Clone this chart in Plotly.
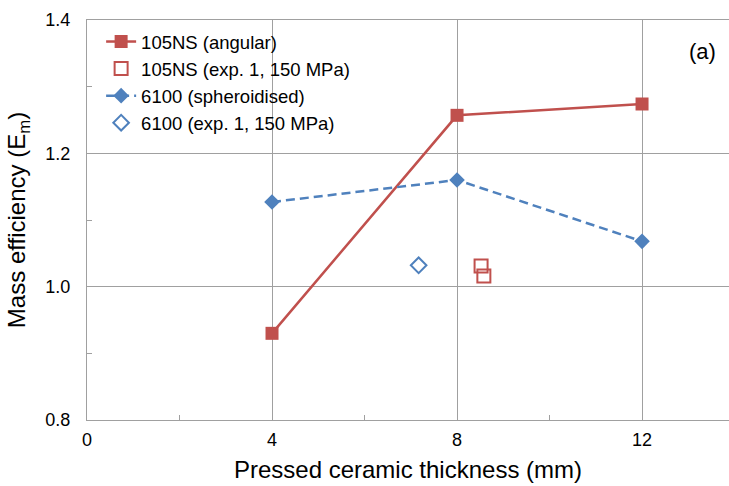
import plotly.graph_objects as go

thickness = [4, 8, 12]
ns105_angular = [0.930, 1.257, 1.274]
s6100_spheroidised = [1.127, 1.160, 1.068]
ns105_exp_x = [8.52, 8.58]
ns105_exp_y = [1.031, 1.016]
s6100_exp_x = [7.17]
s6100_exp_y = [1.032]

RED = "#C0504D"
BLUE = "#4F81BD"
GRID = "#a0a0a0"
FONT = "Liberation Sans, Arial, sans-serif"

fig = go.Figure()
fig.add_trace(go.Scatter(
    x=thickness, y=ns105_angular, mode="lines+markers", name="105NS (angular)",
    line=dict(color=RED, width=2.5),
    marker=dict(symbol="square", size=13, color=RED)))
fig.add_trace(go.Scatter(
    x=ns105_exp_x, y=ns105_exp_y, mode="markers", name="105NS (exp. 1, 150 MPa)",
    marker=dict(symbol="square-open", size=13, color=RED, line=dict(width=2))))
fig.add_trace(go.Scatter(
    x=thickness, y=s6100_spheroidised, mode="lines+markers", name="6100 (spheroidised)",
    line=dict(color=BLUE, width=2.5, dash="9px,5px"),
    marker=dict(symbol="diamond", size=12, color=BLUE)))
fig.add_trace(go.Scatter(
    x=s6100_exp_x, y=s6100_exp_y, mode="markers", name="6100 (exp. 1, 150 MPa)",
    marker=dict(symbol="diamond-open", size=12, color=BLUE, line=dict(width=2))))

fig.update_layout(
    width=729, height=486,
    margin=dict(l=87, r=0, t=20, b=66),
    paper_bgcolor="white", plot_bgcolor="white",
    font=dict(family=FONT, size=18, color="#000000"),
    showlegend=True,
    legend=dict(x=0.022, y=0.9925, xanchor="left", yanchor="top",
                bgcolor="rgba(255,255,255,0)", font=dict(size=18.5),
                tracegroupgap=9, traceorder="normal"),
    xaxis=dict(
        range=[0, 13.88], tickvals=[0, 4, 8, 12], ticktext=["0", "4", "8", "12"],
        showgrid=True, gridcolor=GRID, gridwidth=1.3,
        showline=True, linecolor=GRID, linewidth=1.3, mirror=True,
        ticks="", zeroline=False, ticklabelstandoff=3,
        minor=dict(tickvals=[2, 6, 10], ticks="inside", ticklen=5, tickcolor=GRID, showgrid=False),
        title=dict(text="Pressed ceramic thickness (mm)", font=dict(size=24), standoff=12),
    ),
    yaxis=dict(
        range=[0.8, 1.4], tickvals=[0.8, 1.0, 1.2, 1.4], ticktext=["0.8", "1.0", "1.2", "1.4"],
        showgrid=True, gridcolor=GRID, gridwidth=1.3,
        showline=True, linecolor=GRID, linewidth=1.3,
        ticks="", zeroline=False, ticklabelstandoff=12,
        minor=dict(tickvals=[0.9, 1.1, 1.3], ticks="inside", ticklen=5, tickcolor=GRID, showgrid=False),
        title=dict(text="Mass efficiency (E<sub>m</sub>)", font=dict(size=24), standoff=12),
    ),
    annotations=[dict(text="(a)", xref="paper", yref="paper", x=0.9595, y=0.92,
                      xanchor="center", yanchor="middle", showarrow=False,
                      font=dict(size=22))],
)
for tr in fig.data:
    tr.legendgroup = tr.name
fig.write_html("out.html")
